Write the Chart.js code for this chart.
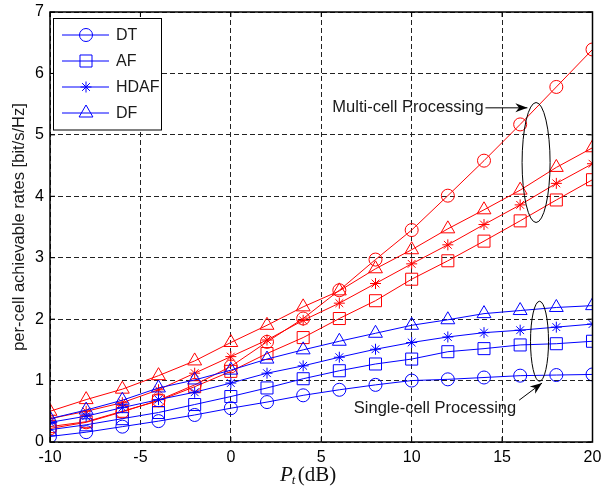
<!DOCTYPE html>
<html><head><meta charset="utf-8">
<script src="https://cdn.jsdelivr.net/npm/chart.js@4"></script>
<style>html,body{margin:0;padding:0;background:#fff}</style>
</head><body>
<canvas id="c" width="602" height="495" style="display:block;width:602px;height:495px"></canvas>
<script>
// ---- data ----
const xValues = [-10,-8,-6,-4,-2,0,2,4,6,8,10,12,14,16,18,20];
const seriesNames = ['DT','AF','HDAF','DF'];
const multiDT   = [0.22,0.32,0.49,0.68,0.93,1.23,1.63,2.01,2.47,2.97,3.45,4.01,4.58,5.17,5.78,6.39];
const multiAF   = [0.25,0.33,0.50,0.67,0.90,1.15,1.44,1.70,2.01,2.30,2.65,2.95,3.27,3.60,3.94,4.27];
const multiHDAF = [0.38,0.50,0.64,0.85,1.12,1.39,1.66,1.98,2.26,2.58,2.90,3.21,3.54,3.86,4.21,4.53];
const multiDF   = [0.50,0.69,0.86,1.08,1.32,1.62,1.90,2.20,2.46,2.82,3.13,3.47,3.78,4.10,4.47,4.79];
const singleDT   = [0.09,0.16,0.25,0.34,0.44,0.55,0.65,0.76,0.85,0.93,1.00,1.02,1.05,1.08,1.09,1.10];
const singleAF   = [0.20,0.28,0.38,0.48,0.61,0.74,0.88,1.03,1.16,1.27,1.35,1.47,1.52,1.58,1.60,1.64];
const singleHDAF = [0.32,0.42,0.56,0.69,0.81,0.96,1.12,1.24,1.38,1.51,1.62,1.71,1.78,1.82,1.87,1.92];
const singleDF   = [0.38,0.52,0.68,0.88,1.01,1.17,1.35,1.50,1.64,1.77,1.90,1.99,2.09,2.14,2.19,2.22];
const xTicks = [-10,-5,0,5,10,15,20];
const yTicks = [0,1,2,3,4,5,6,7];
const yTitle = 'per-cell achievable rates [bit/s/Hz]';
const multiLabel = 'Multi-cell Processing';
const singleLabel = 'Single-cell Processing';

// ---- styles ----
const RED = '#ff0000', BLUE = '#0000ff';
const styles = [
  {pointStyle:'circle', radius:6.5},
  {pointStyle:'rect', radius:8.5},
  {pointStyle:'star', radius:5.5},
  {pointStyle:'triangle', radius:8}
];
const toPts = arr => arr.map((v,i)=>({x:xValues[i], y:v}));
function ds(label, arr, color, k){
  return {label, data: toPts(arr), borderColor: color, backgroundColor:'rgba(0,0,0,0)',
    borderWidth:1, pointStyle: styles[k].pointStyle, pointRadius: styles[k].radius,
    pointBorderColor: color, pointBackgroundColor:'rgba(0,0,0,0)', pointBorderWidth:1,
    pointHoverRadius: styles[k].radius, tension:0, fill:false};
}
const datasets = [
  ds('single DT', singleDT, BLUE, 0), ds('single AF', singleAF, BLUE, 1),
  ds('single HDAF', singleHDAF, BLUE, 2), ds('single DF', singleDF, BLUE, 3),
  ds('multi DT', multiDT, RED, 0), ds('multi AF', multiAF, RED, 1),
  ds('multi HDAF', multiHDAF, RED, 2), ds('multi DF', multiDF, RED, 3)
];

function drawMarker(ctx, k, x, y, color){
  const r = styles[k].radius;
  ctx.save(); ctx.strokeStyle = color; ctx.lineWidth = 1; ctx.beginPath();
  if (k===0){ ctx.arc(x,y,r,0,Math.PI*2); }
  else if (k===1){ const s=r*Math.SQRT1_2; ctx.rect(x-s,y-s,2*s,2*s); }
  else if (k===2){ ctx.moveTo(x-r,y); ctx.lineTo(x+r,y); ctx.moveTo(x,y-r); ctx.lineTo(x,y+r);
    const o=r*Math.SQRT1_2; ctx.moveTo(x-o,y-o); ctx.lineTo(x+o,y+o); ctx.moveTo(x-o,y+o); ctx.lineTo(x+o,y-o); }
  else { const a=r; ctx.moveTo(x, y-a); ctx.lineTo(x+a*Math.sin(Math.PI*2/3), y-a*Math.cos(Math.PI*2/3));
    ctx.lineTo(x-a*Math.sin(Math.PI*2/3), y-a*Math.cos(Math.PI*2/3)); ctx.closePath(); }
  ctx.stroke(); ctx.restore();
}
function arrow(ctx, x1,y1,x2,y2){
  ctx.beginPath(); ctx.moveTo(x1,y1); ctx.lineTo(x2,y2); ctx.stroke();
  const ang = Math.atan2(y2-y1,x2-x1), L=12, W=4.5;
  ctx.beginPath(); ctx.moveTo(x2,y2);
  ctx.lineTo(x2-L*Math.cos(ang)+W*Math.sin(ang), y2-L*Math.sin(ang)-W*Math.cos(ang));
  ctx.lineTo(x2-L*0.7*Math.cos(ang), y2-L*0.7*Math.sin(ang));
  ctx.lineTo(x2-L*Math.cos(ang)-W*Math.sin(ang), y2-L*Math.sin(ang)+W*Math.cos(ang));
  ctx.closePath(); ctx.fill();
}

const deco = {
  id:'deco',
  afterDraw(chart){
    const ctx = chart.ctx, a = chart.chartArea, xs = chart.scales.x, ys = chart.scales.y;
    ctx.save();
    // box
    ctx.strokeStyle = '#000'; ctx.lineWidth = 1.5;
    ctx.strokeRect(a.left, a.top, a.right-a.left, a.bottom-a.top);
    // inner ticks
    ctx.lineWidth = 1; ctx.beginPath();
    xTicks.forEach(t=>{ const p = xs.getPixelForValue(t);
      ctx.moveTo(p,a.bottom); ctx.lineTo(p,a.bottom-5); ctx.moveTo(p,a.top); ctx.lineTo(p,a.top+5); });
    yTicks.forEach(t=>{ const p = ys.getPixelForValue(t);
      ctx.moveTo(a.left,p); ctx.lineTo(a.left+5,p); ctx.moveTo(a.right,p); ctx.lineTo(a.right-5,p); });
    ctx.stroke();

    // annotations
    ctx.strokeStyle = '#000'; ctx.fillStyle = '#000'; ctx.lineWidth = 1;
    let cx = xs.getPixelForValue(16.88), cy = ys.getPixelForValue(4.55);
    ctx.beginPath(); ctx.ellipse(cx, cy, 14, 60, 0, 0, Math.PI*2); ctx.stroke();
    let sx = xs.getPixelForValue(17.07), sy = ys.getPixelForValue(1.64);
    ctx.beginPath(); ctx.ellipse(sx, sy, 9, 40, 0, 0, Math.PI*2); ctx.stroke();
    arrow(ctx, xs.getPixelForValue(14.08), ys.getPixelForValue(5.44), xs.getPixelForValue(16.4), ys.getPixelForValue(5.44));
    arrow(ctx, xs.getPixelForValue(15.94), ys.getPixelForValue(0.68), xs.getPixelForValue(17.21), ys.getPixelForValue(0.96));
    ctx.fillStyle = '#1a1a1a';
    ctx.font = '16.5px "Liberation Sans", Arial, sans-serif';
    ctx.textBaseline = 'middle';
    ctx.textAlign = 'right';
    ctx.fillText(multiLabel, xs.getPixelForValue(13.98), ys.getPixelForValue(5.44));
    ctx.textAlign = 'center';
    ctx.fillText(singleLabel, xs.getPixelForValue(11.29), ys.getPixelForValue(0.54));

    // legend
    const lx = 53.5, ly = 18.5, lw = 108, lh = 111.5;
    ctx.fillStyle = '#fff'; ctx.fillRect(lx, ly, lw, lh);
    ctx.strokeStyle = '#000'; ctx.lineWidth = 1; ctx.strokeRect(lx, ly, lw, lh);
    const rows = [35, 61, 87, 113];
    ctx.font = '16px "Liberation Sans", Arial, sans-serif';
    ctx.textAlign = 'left'; ctx.textBaseline = 'middle';
    seriesNames.forEach((n,i)=>{
      const y = rows[i];
      ctx.strokeStyle = BLUE; ctx.beginPath(); ctx.moveTo(62,y); ctx.lineTo(109,y); ctx.stroke();
      drawMarker(ctx, i, 86, y, BLUE);
      ctx.fillStyle = '#1a1a1a'; ctx.fillText(n, 116, y+1);
    });

    // y title
    ctx.save();
    ctx.translate(19, (a.top+a.bottom)/2); ctx.rotate(-Math.PI/2);
    ctx.font = '16.5px "Liberation Sans", Arial, sans-serif';
    ctx.fillStyle = '#1a1a1a'; ctx.textAlign = 'center'; ctx.textBaseline = 'middle';
    ctx.fillText(yTitle, 0, 0);
    ctx.restore();

    // x title: P_t (dB)
    ctx.fillStyle = '#111'; ctx.textBaseline = 'alphabetic'; ctx.textAlign = 'left';
    const bx = 280, by = 481;
    ctx.font = 'italic 21px "Liberation Serif", "Times New Roman", serif';
    ctx.fillText('P', bx, by);
    const pw = ctx.measureText('P').width;
    ctx.font = 'italic 13px "Liberation Serif", "Times New Roman", serif';
    ctx.fillText('t', bx+pw-1, by+3);
    ctx.font = '21px "Liberation Serif", "Times New Roman", serif';
    ctx.fillText('(dB)', bx+pw+5, by);
    ctx.restore();
  }
};

new Chart(document.getElementById('c'), {
  type:'line',
  data:{datasets},
  options:{
    responsive:false, animation:false, devicePixelRatio:1,
    layout:{padding:{left:0, top:12, right:8, bottom:0}},
    plugins:{legend:{display:false}, tooltip:{enabled:false}},
    scales:{
      x:{type:'linear', min:-10, max:20,
        afterBuildTicks: s => { s.ticks = xTicks.map(v=>({value:v})); },
        afterFit: s => { s.height = 53; s.paddingLeft = 0; s.paddingRight = 0; },
        ticks:{color:'#000', padding:6, font:{family:'"Liberation Sans", Arial, sans-serif', size:16}, maxRotation:0},
        grid:{color:'#222', lineWidth:1, drawTicks:false},
        border:{display:false, dash:[5,3]}
      },
      y:{min:0, max:7,
        afterBuildTicks: s => { s.ticks = yTicks.map(v=>({value:v})); },
        afterFit: s => { s.width = 50; s.paddingTop = 0; s.paddingBottom = 0; },
        ticks:{color:'#000', padding:6, font:{family:'"Liberation Sans", Arial, sans-serif', size:16}},
        grid:{color:'#222', lineWidth:1, drawTicks:false},
        border:{display:false, dash:[5,3]}
      }
    }
  },
  plugins:[deco]
});
</script>
</body></html>
